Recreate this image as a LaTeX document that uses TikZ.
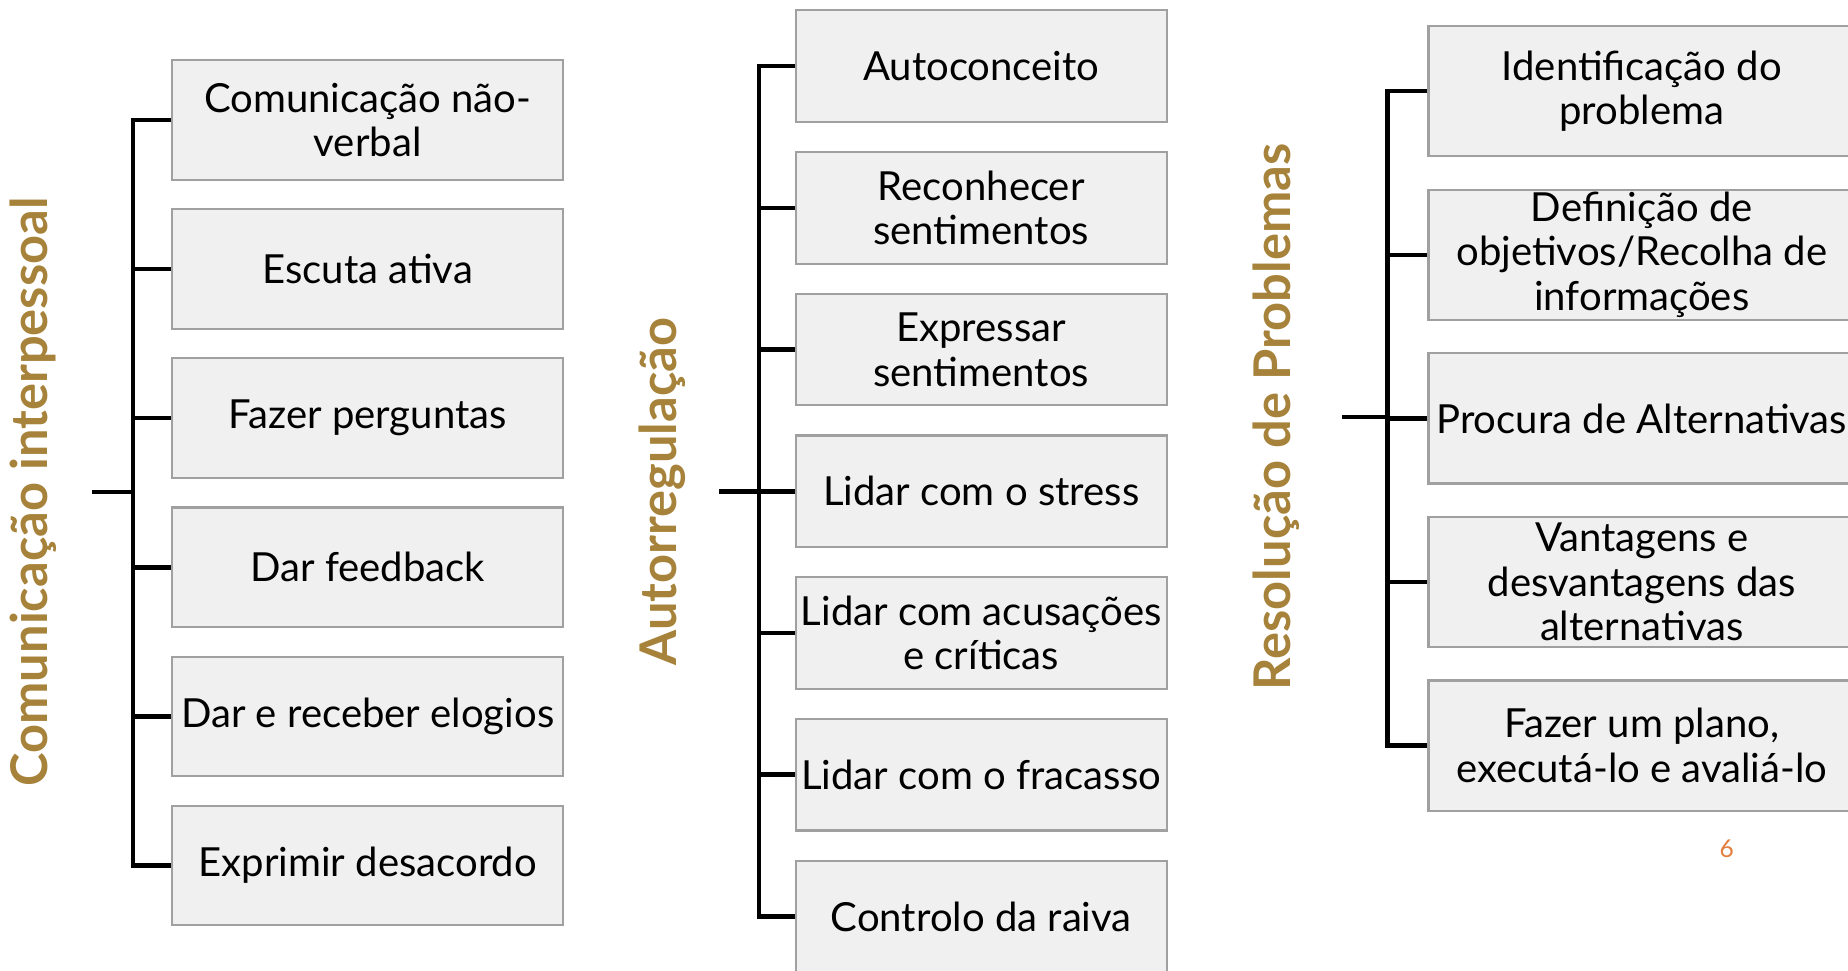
\documentclass[tikz,border=0pt]{standalone}
\usepackage{fontspec}
\setmainfont{Lato}
\usetikzlibrary{positioning}
\definecolor{titlegold}{RGB}{166,130,58}
\definecolor{boxfill}{RGB}{240,240,240}
\definecolor{boxgray}{RGB}{160,160,160}
\definecolor{pageorange}{RGB}{226,125,60}
\begin{document}
\begin{tikzpicture}[node distance=0.274cm]
    % Define styles for nodes and lines
    \tikzstyle{skill} = [rectangle, draw=boxgray, fill=boxfill, line width=0.6pt, text centered, align=center, inner sep=0pt, font=\fontsize{11.4}{12.7}\selectfont]
    \tikzstyle{comskill} = [skill, minimum width=3.913cm, minimum height=1.196cm]
    \tikzstyle{autoskill} = [skill, minimum width=3.713cm, minimum height=1.116cm]
    \tikzstyle{probskill} = [skill, minimum width=4.266cm, minimum height=1.302cm]
    \tikzstyle{heading} = [rotate=90, text=titlegold, font=\fontsize{14.4}{17}\selectfont\bfseries]
    % Line style for the tree
    \tikzset{branch/.style={line width=1.3pt, draw=black}}
    \useasboundingbox (0,0) rectangle (18.48,9.70);
    % Comunicação interpessoal
    \node (comtitle) [heading] at (0.33,4.78) {Comunicação interpessoal};
    \node (com1) [comskill] at (3.677,8.500) {Comunicação não-\\verbal};
    \node (com2) [comskill, below=of com1] {Escuta ativa};
    \node (com3) [comskill, below=of com2] {Fazer perguntas};
    \node (com4) [comskill, below=of com3] {Dar feedback};
    \node (com5) [comskill, below=of com4] {Dar e receber elogios};
    \node (com6) [comskill, below=of com5] {Exprimir desacordo};
    \coordinate (comroot) at (0.919,4.78);
    \coordinate (comspine) at (1.332,4.78);
    % Autorregulação
    \node (autotitle) [heading] at (6.624,4.785) {Autorregulação};
    \node (auto1) [autoskill] at (9.812,9.038) {Autoconceito};
    \node (auto2) [autoskill, below=0.28cm of auto1] {Reconhecer\\sentimentos};
    \node (auto3) [autoskill, below=0.28cm of auto2] {Expressar\\sentimentos};
    \node (auto4) [autoskill, below=0.28cm of auto3] {Lidar com o stress};
    \node (auto5) [autoskill, below=0.28cm of auto4] {Lidar com acusações\\e críticas};
    \node (auto6) [autoskill, below=0.28cm of auto5] {Lidar com o fracasso};
    \node (auto7) [autoskill, below=0.28cm of auto6] {Controlo da raiva};
    \coordinate (autoroot) at (7.189,4.785);
    \coordinate (autospine) at (7.590,4.785);
    % Resolução de Problemas
    \node (probtitle) [heading] at (12.764,5.53) {Resolução de Problemas};
    \node (prob1) [probskill] at (16.418,8.788) {Identificação do\\problema};
    \node (prob2) [probskill, below=0.313cm of prob1] {Definição de\\objetivos/Recolha de\\informações};
    \node (prob3) [probskill, below=0.313cm of prob2] {Procura de Alternativas};
    \node (prob4) [probskill, below=0.313cm of prob3] {Vantagens e\\desvantagens das\\alternativas};
    \node (prob5) [probskill, below=0.313cm of prob4] {Fazer um plano,\\executá-lo e avaliá-lo};
    \coordinate (probroot) at (13.424,5.53);
    \coordinate (probspine) at (13.872,5.53);
    % Page number
    \node (pagenum) [text=pageorange, font=\fontsize{7}{8}\selectfont] at (17.267,1.214) {6};
    % Lines (tree)
    \draw [branch] (comroot) -- (comspine);
    \draw [branch] (comspine) |- (com1.west);
    \draw [branch] (comspine) |- (com2.west);
    \draw [branch] (comspine) |- (com3.west);
    \draw [branch] (comspine) |- (com4.west);
    \draw [branch] (comspine) |- (com5.west);
    \draw [branch] (comspine) |- (com6.west);
    \draw [branch] (autoroot) -- (autospine);
    \draw [branch] (autospine) |- (auto1.west);
    \draw [branch] (autospine) |- (auto2.west);
    \draw [branch] (autospine) |- (auto3.west);
    \draw [branch] (autospine) |- (auto4.west);
    \draw [branch] (autospine) |- (auto5.west);
    \draw [branch] (autospine) |- (auto6.west);
    \draw [branch] (autospine) |- (auto7.west);
    \draw [branch] (probroot) -- (probspine);
    \draw [branch] (probspine) |- (prob1.west);
    \draw [branch] (probspine) |- (prob2.west);
    \draw [branch] (probspine) |- (prob3.west);
    \draw [branch] (probspine) |- (prob4.west);
    \draw [branch] (probspine) |- (prob5.west);
\end{tikzpicture}
\end{document}
